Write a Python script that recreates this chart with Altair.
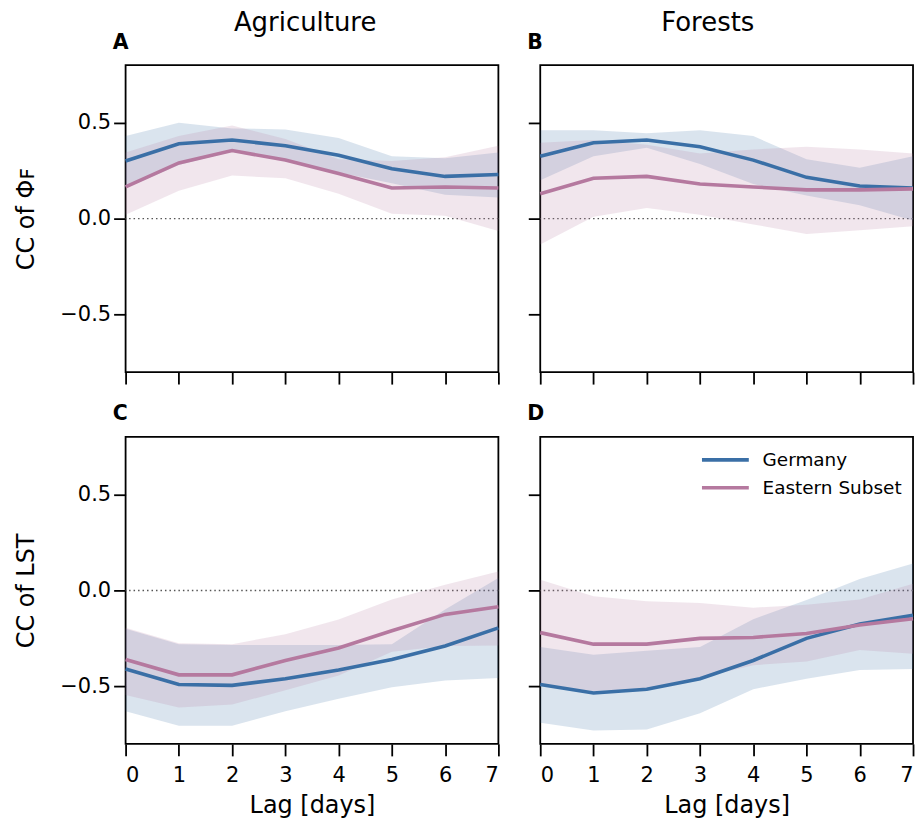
import altair as alt
import pandas as pd

lags = [0, 1, 2, 3, 4, 5, 6, 7]
series_names = ["Germany", "Eastern Subset"]
series_colors = ["#3a6fa6", "#b5799f"]

# Panel A: Agriculture, CC of Phi_F
ger_mean_A = [0.30, 0.39, 0.41, 0.38, 0.33, 0.26, 0.22, 0.23]
ger_hi_A = [0.43, 0.50, 0.47, 0.465, 0.42, 0.325, 0.315, 0.345]
ger_lo_A = [0.16, 0.28, 0.35, 0.30, 0.24, 0.185, 0.125, 0.11]
east_mean_A = [0.165, 0.29, 0.355, 0.305, 0.235, 0.16, 0.165, 0.16]
east_hi_A = [0.345, 0.43, 0.485, 0.415, 0.31, 0.30, 0.32, 0.38]
east_lo_A = [0.02, 0.145, 0.225, 0.21, 0.13, 0.025, 0.015, -0.065]

# Panel B: Forests, CC of Phi_F
ger_mean_B = [0.325, 0.395, 0.41, 0.375, 0.305, 0.215, 0.17, 0.16]
ger_hi_B = [0.46, 0.46, 0.445, 0.46, 0.43, 0.31, 0.265, 0.325]
ger_lo_B = [0.20, 0.325, 0.37, 0.285, 0.18, 0.12, 0.07, -0.01]
east_mean_B = [0.13, 0.21, 0.22, 0.18, 0.165, 0.15, 0.15, 0.155]
east_hi_B = [0.395, 0.41, 0.385, 0.34, 0.36, 0.375, 0.36, 0.34]
east_lo_B = [-0.135, 0.01, 0.055, 0.02, -0.03, -0.08, -0.06, -0.04]

# Panel C: Agriculture, CC of LST
ger_mean_C = [-0.41, -0.49, -0.495, -0.46, -0.415, -0.36, -0.29, -0.195]
ger_hi_C = [-0.20, -0.28, -0.285, -0.285, -0.285, -0.28, -0.10, 0.065]
ger_lo_C = [-0.63, -0.705, -0.705, -0.63, -0.565, -0.505, -0.47, -0.457]
east_mean_C = [-0.36, -0.44, -0.44, -0.365, -0.30, -0.21, -0.125, -0.085]
east_hi_C = [-0.195, -0.275, -0.28, -0.228, -0.151, -0.048, 0.03, 0.098]
east_lo_C = [-0.545, -0.61, -0.595, -0.52, -0.443, -0.32, -0.29, -0.287]

# Panel D: Forests, CC of LST
ger_mean_D = [-0.49, -0.535, -0.515, -0.46, -0.365, -0.25, -0.175, -0.13]
ger_hi_D = [-0.295, -0.335, -0.315, -0.295, -0.15, -0.05, 0.06, 0.14]
ger_lo_D = [-0.69, -0.73, -0.725, -0.64, -0.515, -0.46, -0.415, -0.41]
east_mean_D = [-0.22, -0.28, -0.28, -0.25, -0.245, -0.225, -0.18, -0.148]
east_hi_D = [0.055, -0.03, -0.057, -0.065, -0.09, -0.075, -0.048, 0.035]
east_lo_D = [-0.49, -0.525, -0.51, -0.455, -0.39, -0.37, -0.31, -0.33]

y_ticks = [-0.5, 0.0, 0.5]

panels = {
    "A": (ger_mean_A, ger_lo_A, ger_hi_A, east_mean_A, east_lo_A, east_hi_A),
    "B": (ger_mean_B, ger_lo_B, ger_hi_B, east_mean_B, east_lo_B, east_hi_B),
    "C": (ger_mean_C, ger_lo_C, ger_hi_C, east_mean_C, east_lo_C, east_hi_C),
    "D": (ger_mean_D, ger_lo_D, ger_hi_D, east_mean_D, east_lo_D, east_hi_D),
}

rows = []
for key, (gm, gl, gh, em, el, eh) in panels.items():
    for i, lag in enumerate(lags):
        rows.append({"panel": key, "lag": lag, "series": "Germany",
                     "mean": gm[i], "lo": gl[i], "hi": gh[i]})
        rows.append({"panel": key, "lag": lag, "series": "Eastern Subset",
                     "mean": em[i], "lo": el[i], "hi": eh[i]})
df = pd.DataFrame(rows)
zero_df = pd.DataFrame({"zero": [0.0]})

W, H = 374, 308
FONT = "DejaVu Sans"


def panel(key, x_labels, y_labels, y_title, show_legend):
    d = df[df.panel == key]
    x_axis = alt.Axis(values=lags, labels=x_labels, format="d", labelPadding=9,
                      titlePadding=8)
    y_axis = alt.Axis(values=y_ticks, labels=y_labels, format=".1f", labelPadding=3,
                      titlePadding=21)
    xs = alt.Scale(domain=[0, 7], nice=False)
    ys = alt.Scale(domain=[-0.8, 0.8], nice=False)
    if x_labels:
        x = alt.X("lag:Q", scale=xs, axis=x_axis, title="Lag [days]")
    else:
        x = alt.X("lag:Q", scale=xs, axis=x_axis, title=None)
    if y_title:
        y = alt.Y("mean:Q", scale=ys, axis=y_axis, title=y_title)
    else:
        y = alt.Y("mean:Q", scale=ys, axis=y_axis, title=None)

    base = alt.Chart(d)
    bands = []
    for name, col in zip(series_names, series_colors):
        bands.append(
            base.transform_filter(alt.datum.series == name)
            .mark_area(opacity=0.19, color=col, interpolate="linear")
            .encode(x=x, y=alt.Y("lo:Q", scale=ys), y2="hi:Q")
        )
    if show_legend:
        color = alt.Color(
            "series:N", scale=alt.Scale(domain=series_names, range=series_colors),
            legend=alt.Legend(
                title=None, orient="none", legendX=160, legendY=9, padding=0,
                symbolType="M-1,0H3", symbolSize=552, symbolStrokeWidth=3.6,
                labelFont=FONT, labelFontSize=18.5, labelColor="black",
                labelOffset=35, rowPadding=4, labelLimit=300,
            ),
        )
    else:
        color = alt.Color(
            "series:N", scale=alt.Scale(domain=series_names, range=series_colors),
            legend=None,
        )
    line = base.mark_line(strokeWidth=3.6).encode(x=x, y=y, color=color)
    zero = alt.Chart(zero_df).mark_rule(color="#555555", strokeWidth=1.5,
                                        strokeDash=[1.5, 3]).encode(y="zero:Q")
    return alt.layer(zero, *bands, line).properties(
        width=W, height=H,
        title=alt.TitleParams(key, anchor="start", frame="group", fontSize=20.5,
                              fontWeight="bold", font=FONT, dx=-13, offset=12,
                              color="black"),
    )


A = panel("A", False, True, "CC of Φꜰ", False)
B = panel("B", False, False, None, False)
C = panel("C", True, True, "CC of LST", False)
D = panel("D", True, False, None, True)


def res(c):
    return c.resolve_scale(color="independent").resolve_legend(color="independent")


left = res(alt.vconcat(A, C, spacing=17)).properties(
    title=alt.TitleParams("Agriculture", fontSize=26, fontWeight="normal", font=FONT,
                          anchor="middle", dx=45, offset=-4, color="black")
)
right = res(alt.vconcat(B, D, spacing=17)).properties(
    title=alt.TitleParams("Forests", fontSize=26, fontWeight="normal", font=FONT,
                          anchor="middle", dx=-16, offset=-4, color="black")
)

chart = res(alt.hconcat(left, right, spacing=19)).properties(
    padding={"left": 14, "top": 8, "right": 0, "bottom": 0}
).configure_view(
    stroke="black", strokeWidth=1.8
).configure_axis(
    grid=False, domain=False, tickColor="black", tickWidth=1.8, tickSize=12,
    labelFont=FONT, labelFontSize=21, labelColor="black",
    titleFont=FONT, titleFontSize=24, titleFontWeight="normal", titleColor="black",
)

chart.save("out.html", embed_options={"renderer": "svg", "actions": False})
